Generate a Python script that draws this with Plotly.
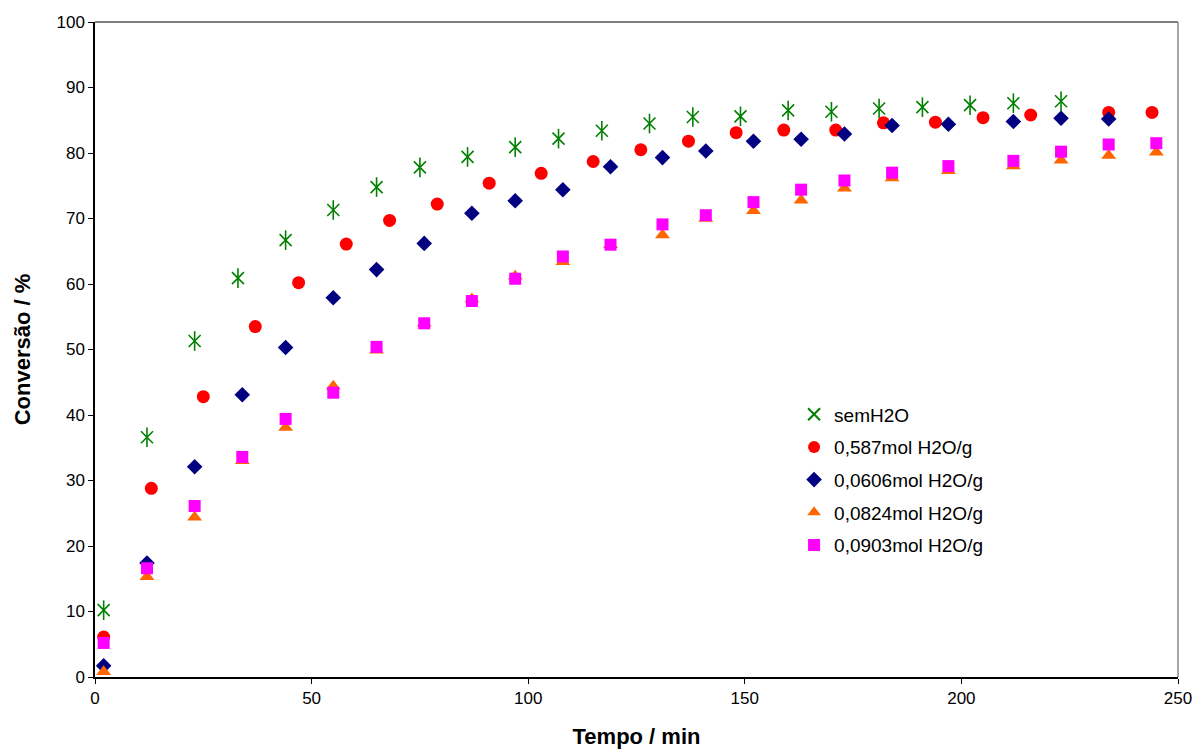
import plotly.graph_objects as go

# semH2O
t_sem = [2, 12, 23, 33, 44, 55, 65, 75, 86, 97, 107, 117, 128, 138, 149, 160, 170, 181, 191, 202, 212, 223]
c_sem = [10.2, 36.6, 51.3, 60.9, 66.7, 71.3, 74.8, 77.8, 79.4, 80.9, 82.2, 83.4, 84.5, 85.5, 85.6, 86.5, 86.3, 86.8, 87.0, 87.3, 87.6, 87.9]

# 0,587mol H2O/g
t_587 = [2, 13, 25, 37, 47, 58, 68, 79, 91, 103, 115, 126, 137, 148, 159, 171, 182, 194, 205, 216, 234, 244]
c_587 = [6.1, 28.8, 42.8, 53.5, 60.2, 66.1, 69.7, 72.2, 75.4, 76.9, 78.7, 80.5, 81.8, 83.1, 83.5, 83.5, 84.6, 84.7, 85.4, 85.8, 86.2, 86.2]

# 0,0606mol H2O/g
t_0606 = [2, 12, 23, 34, 44, 55, 65, 76, 87, 97, 108, 119, 131, 141, 152, 163, 173, 184, 197, 212, 223, 234]
c_0606 = [1.7, 17.4, 32.1, 43.1, 50.3, 57.9, 62.2, 66.2, 70.8, 72.7, 74.4, 77.9, 79.3, 80.3, 81.8, 82.1, 82.9, 84.2, 84.4, 84.8, 85.3, 85.2]

# 0,0824mol H2O/g
t_0824 = [2, 12, 23, 34, 44, 55, 65, 76, 87, 97, 108, 119, 131, 141, 152, 163, 173, 184, 197, 212, 223, 234, 245]
c_0824 = [0.8, 15.3, 24.4, 33.0, 38.1, 44.4, 49.9, 54.0, 57.7, 61.2, 63.4, 66.0, 67.5, 70.0, 71.2, 72.8, 74.6, 76.2, 77.3, 78.0, 78.9, 79.6, 80.1]

# 0,0903mol H2O/g
t_0903 = [2, 12, 23, 34, 44, 55, 65, 76, 87, 97, 108, 119, 131, 141, 152, 163, 173, 184, 197, 212, 223, 234, 245]
c_0903 = [5.2, 16.6, 26.1, 33.6, 39.4, 43.4, 50.4, 54.0, 57.4, 60.8, 64.2, 66.0, 69.1, 70.5, 72.5, 74.4, 75.8, 77.0, 78.0, 78.8, 80.2, 81.3, 81.5]

x_ticks = [0, 50, 100, 150, 200, 250]
y_ticks = [0, 10, 20, 30, 40, 50, 60, 70, 80, 90, 100]

FONT = "Liberation Sans, Arial, sans-serif"
GREEN = "#008000"

fig = go.Figure()
# asterisk drawn as X plus vertical bar
fig.add_trace(go.Scatter(x=t_sem, y=c_sem, mode="markers", name="semH2O", legendgroup="g1",
                         marker=dict(symbol="x-thin-open", size=12, color=GREEN,
                                     line=dict(color=GREEN, width=1.6))))
fig.add_trace(go.Scatter(x=t_sem, y=c_sem, mode="markers", name="semH2O", legendgroup="g1",
                         showlegend=False, hoverinfo="skip",
                         marker=dict(symbol="line-ns-open", size=14, color=GREEN,
                                     line=dict(color=GREEN, width=1.6))))
fig.add_trace(go.Scatter(x=t_587, y=c_587, mode="markers", name="0,587mol H2O/g", legendgroup="g2",
                         marker=dict(symbol="circle", size=13, color="#FF0000")))
fig.add_trace(go.Scatter(x=t_0606, y=c_0606, mode="markers", name="0,0606mol H2O/g", legendgroup="g3",
                         marker=dict(symbol="diamond", size=12, color="#000080")))
fig.add_trace(go.Scatter(x=t_0824, y=c_0824, mode="markers", name="0,0824mol H2O/g", legendgroup="g4",
                         marker=dict(symbol="triangle-up", size=13, color="#FF6600")))
fig.add_trace(go.Scatter(x=t_0903, y=c_0903, mode="markers", name="0,0903mol H2O/g", legendgroup="g5",
                         marker=dict(symbol="square", size=12, color="#FF00FF")))

fig.update_layout(
    width=1194, height=749,
    margin=dict(l=95, r=16, t=22, b=72),
    paper_bgcolor="white", plot_bgcolor="white",
    font=dict(family=FONT, size=17, color="black"),
    showlegend=True,
    legend=dict(x=0.6455, y=0.43, xanchor="left", yanchor="top",
                font=dict(family=FONT, size=19, color="black"),
                bgcolor="rgba(0,0,0,0)", itemsizing="constant",
                tracegroupgap=5, itemwidth=30),
    shapes=[
        dict(type="line", xref="paper", yref="paper", x0=0, x1=1, y0=1, y1=1,
             line=dict(color="#555555", width=1.5)),
        dict(type="line", xref="paper", yref="paper", x0=1, x1=1, y0=0, y1=1,
             line=dict(color="#888888", width=1.5)),
    ],
)
fig.update_xaxes(range=[0, 250], tickvals=x_ticks, ticks="outside", ticklen=5,
                 tickcolor="black", showline=True, linecolor="black", linewidth=1.5,
                 showgrid=False, zeroline=False, automargin=False,
                 title=dict(text="<b>Tempo / min</b>", font=dict(family=FONT, size=22), standoff=22),
                 tickfont=dict(family=FONT, size=17))
fig.update_yaxes(range=[0, 100], tickvals=y_ticks, ticks="outside", ticklen=5,
                 tickcolor="black", showline=True, linecolor="black", linewidth=1.5,
                 showgrid=False, zeroline=False, automargin=False,
                 title=dict(text="<b>Conversão / %</b>", font=dict(family=FONT, size=22), standoff=20),
                 tickfont=dict(family=FONT, size=17))

fig.write_html("out.html")
